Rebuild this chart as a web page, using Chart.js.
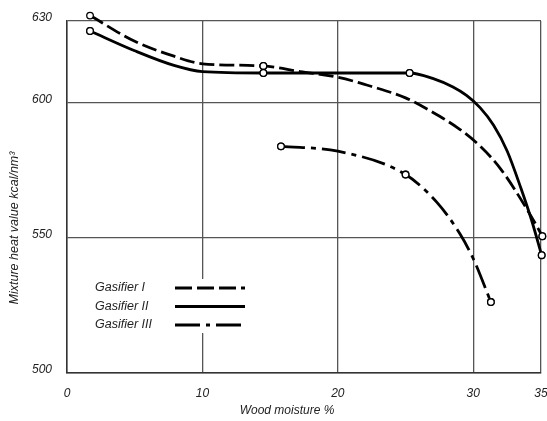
<!DOCTYPE html>
<html>
<head>
<meta charset="utf-8">
<script src="https://cdn.jsdelivr.net/npm/chart.js@4/dist/chart.umd.min.js"></script>
<style>
  html, body { margin: 0; padding: 0; background: #fff; }
  #wrap { position: relative; width: 547px; height: 421px; }
</style>
</head>
<body>
<div id="wrap"><canvas id="chart"></canvas></div>
<script>
const moistureI = [1.7, 5, 7.9, 10, 14.5, 17.2, 20, 22.5, 25, 27, 29, 30.5, 32, 34.2, 35.1];
const heatI     = [632, 622.5, 617, 614.2, 613.4, 611.3, 609.2, 605.8, 601.6, 596.3, 590, 583.8, 575.5, 558.5, 550.5];
const markersI  = [0, 4, 14];

const moistureII = [1.7, 5, 7.9, 10, 14.5, 20, 25.3, 27, 28.5, 29.5, 30.5, 31.5, 32.5, 33.5, 34.3, 35.05];
const heatII     = [626.3, 619, 613.6, 611.3, 610.8, 610.8, 610.8, 608.8, 605.6, 602.5, 598, 591.5, 582, 568.5, 556.5, 543.5];
const markersII  = [0, 4, 6, 15];

const moistureIII = [15.8, 20, 25, 27.3, 29, 30, 31.3];
const heatIII     = [583.7, 581.9, 573.3, 563.1, 551.5, 542.2, 526.2];
const markersIII  = [0, 2, 6];

const seriesLabels = ['Gasifier I', 'Gasifier II', 'Gasifier III'];
const xTicks = [0, 10, 20, 30, 35];
const yTicks = [500, 550, 600, 630];

const textColor = '#222';
const tickFont = { family: 'Liberation Sans', size: 12, style: 'italic' };

function toPoints(xs, ys) {
    return xs.map((x, i) => ({ x: x, y: ys[i] }));
}

function radii(n, marks) {
    return Array.from({ length: n }, (_, i) => marks.includes(i) ? 3.3 : 0);
}

function makeDataset(label, xs, ys, marks, dash) {
    return {
        label: label,
        data: toPoints(xs, ys),
        showLine: true,
        borderColor: '#000',
        borderWidth: 2.8,
        borderDash: dash,
        cubicInterpolationMode: 'monotone',
        pointRadius: radii(xs.length, marks),
        pointHoverRadius: 0,
        pointBackgroundColor: '#fff',
        pointBorderColor: '#000',
        pointBorderWidth: 1.3,
        clip: false
    };
}

// legend inside the plot, the two axis titles, and markers outside the plot area
const annotations = {
    id: 'annotations',
    afterDatasetsDraw(chart) {
        const ctx = chart.ctx;
        const full = { left: 0, top: 0, right: chart.width, bottom: chart.height };
        chart.data.datasets.forEach((ds, i) => {
            chart.getDatasetMeta(i).data.forEach(p => p.draw(ctx, full));
        });

        ctx.save();
        ctx.fillStyle = '#fff';
        ctx.fillRect(86, 279, 166, 54);

        const rows = [288, 306.5, 325];
        chart.data.datasets.forEach((ds, i) => {
            ctx.fillStyle = textColor;
            ctx.font = 'italic 12.5px "Liberation Sans"';
            ctx.textAlign = 'left';
            ctx.textBaseline = 'middle';
            ctx.fillText(ds.label, 95, rows[i]);

            ctx.strokeStyle = '#000';
            ctx.lineWidth = 2.8;
            ctx.setLineDash(i === 0 ? [17, 5] : i === 2 ? [25, 6, 4, 6] : []);
            ctx.beginPath();
            ctx.moveTo(175, rows[i]);
            ctx.lineTo(245, rows[i]);
            ctx.stroke();
        });
        ctx.setLineDash([]);

        ctx.fillStyle = textColor;
        ctx.font = 'italic 12px "Liberation Sans"';
        ctx.textAlign = 'center';
        ctx.textBaseline = 'middle';
        ctx.fillText('Wood moisture %', 287, 411);

        ctx.font = 'italic 12.5px "Liberation Sans"';
        ctx.translate(15, 228);
        ctx.rotate(-Math.PI / 2);
        ctx.fillText('Mixture heat value kcal/nm³', 0, 0);
        ctx.restore();
    }
};

new Chart(document.getElementById('chart'), {
    type: 'scatter',
    data: {
        datasets: [
            makeDataset(seriesLabels[0], moistureI, heatI, markersI, [15, 5]),
            makeDataset(seriesLabels[1], moistureII, heatII, markersII, []),
            makeDataset(seriesLabels[2], moistureIII, heatIII, markersIII, [24, 6, 5, 6])
        ]
    },
    options: {
        responsive: true,
        maintainAspectRatio: false,
        animation: false,
        layout: { padding: { top: 21, right: 6, left: 0, bottom: 0 } },
        plugins: {
            legend: { display: false },
            tooltip: { enabled: false }
        },
        scales: {
            x: {
                type: 'linear',
                min: 0,
                max: 35,
                afterBuildTicks: s => { s.ticks = xTicks.map(v => ({ value: v })); },
                afterFit: s => { s.height = 48; s.paddingLeft = 0; s.paddingRight = 0; },
                grid: { color: '#555', lineWidth: 1.3, drawTicks: false },
                border: { display: true, color: '#333', width: 1.5 },
                ticks: { color: textColor, font: tickFont, padding: 13, maxRotation: 0 }
            },
            y: {
                type: 'linear',
                min: 500,
                max: 630,
                afterBuildTicks: s => { s.ticks = yTicks.map(v => ({ value: v })); },
                afterFit: s => { s.width = 67; s.paddingTop = 0; s.paddingBottom = 0; },
                grid: { color: '#555', lineWidth: 1.3, drawTicks: false },
                border: { display: true, color: '#333', width: 1.5 },
                ticks: { color: textColor, font: tickFont, padding: 15, labelOffset: -3 }
            }
        }
    },
    plugins: [annotations]
});
</script>
</body>
</html>
